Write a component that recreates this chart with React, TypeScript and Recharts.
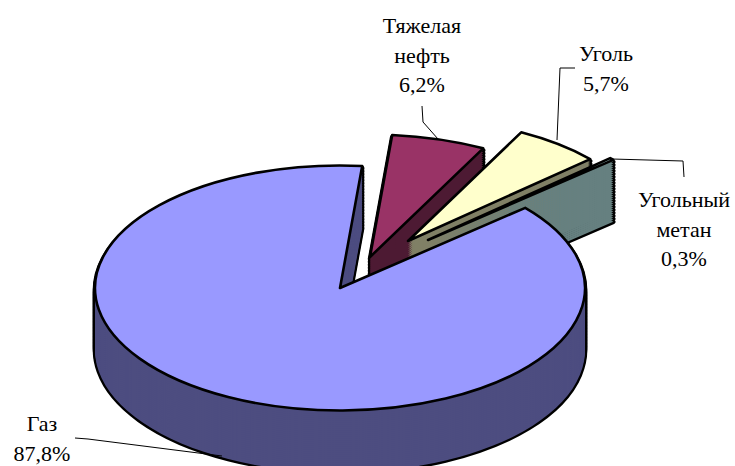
import React from 'react';
import { PieChart, Pie, Cell } from 'recharts';

const names = ['Тяжелая нефть', 'Уголь', 'Угольный метан', 'Газ'];
const shares = [6.2, 5.7, 0.3, 87.8];
const topColors = ['#993366', '#FFFFCC', '#CCFFFF', '#9999FF'];
const sideColors = ['#4D1A33', '#808066', '#668080', '#4D4D80'];

const data = names.map((name, i) => ({ name, value: shares[i] }));

const W = 735;
const H = 466;
const TILT = 0.5; // vertical squash of the pie disc
const R = 245;
const DEPTH = 62; // wall height in screen px
const START = 84.8;
// screen position of each exploded slice's apex
const centers = [[370, 257], [408, 241], [428, 240], [340, 288]];

// label blocks: centre x, first baseline, leader polyline
const labelPos = [
  { x: 422, y: 33, line: [[422, 106], [423, 122], [438, 139]] },
  { x: 606, y: 61, line: [[575, 68], [560, 68], [557, 140]] },
  { x: 684, y: 207, line: [[612, 159], [683, 161], [684, 177]] },
  { x: 42, y: 431, line: [[75, 438], [88, 439], [222, 456]] },
];
const LINE_H = 29.5;
const FONT = "'Liberation Serif', 'Times New Roman', 'DejaVu Serif', serif";

const fmt = (v: number) => v.toFixed(1).replace('.', ',') + '%';

const levels = (step: number) => {
  const out: number[] = [];
  for (let d = DEPTH; d > 0; d -= step) out.push(d);
  return out;
};

const slice = (key: string, i: number, d: number, fill: string, stroke: string, sw: number) => (
  <Pie
    key={key}
    data={data}
    dataKey="value"
    cx={centers[i][0]}
    cy={(centers[i][1] + d) / TILT}
    outerRadius={R}
    startAngle={START}
    endAngle={START - 360}
    isAnimationActive={false}
    legendType="none"
  >
    {data.map((_, j) => (
      <Cell
        key={j}
        fill={j === i ? fill : 'none'}
        stroke={j === i ? stroke : 'none'}
        strokeWidth={sw}
      />
    ))}
  </Pie>
);

export default function App() {
  const outline = levels(3).flatMap((d) => data.map((_, i) => slice(`a${d}-${i}`, i, d, sideColors[i], '#000', 4.5)));
  const walls = levels(2).flatMap((d) => data.map((_, i) => slice(`b${d}-${i}`, i, d, sideColors[i], 'none', 0)));
  const tops = data.map((_, i) => slice(`t${i}`, i, 0, topColors[i], '#000', 2.6));

  return (
    <div style={{ position: 'absolute', left: 0, top: 0, width: W, height: H, background: '#fff' }}>
      <style>{`
        .pie3d .recharts-pie { transform: scale(1, ${TILT}); }
        .pie3d path { vector-effect: non-scaling-stroke; stroke-linejoin: round; }
      `}</style>
      <div className="pie3d" style={{ position: 'absolute', left: 0, top: 0 }}>
        <PieChart width={W} height={H} margin={{ top: 0, right: 0, bottom: 0, left: 0 }}>
          {outline}
          {walls}
          {tops}
        </PieChart>
      </div>
      <svg width={W} height={H} style={{ position: 'absolute', left: 0, top: 0, pointerEvents: 'none' }}>
        {labelPos.map((p, i) => (
          <g key={i}>
            <polyline points={p.line.map((q) => q.join(',')).join(' ')} fill="none" stroke="#000" strokeWidth={1} />
            <text
              x={p.x}
              y={p.y}
              textAnchor="middle"
              fontFamily={FONT}
              style={{ fontFamily: FONT, fontSize: 22 }}
              fill="#000"
            >
              {[...names[i].split(' '), fmt(shares[i])].map((t, k) => (
                <tspan key={k} x={p.x} y={p.y + k * LINE_H}>
                  {t}
                </tspan>
              ))}
            </text>
          </g>
        ))}
      </svg>
    </div>
  );
}
